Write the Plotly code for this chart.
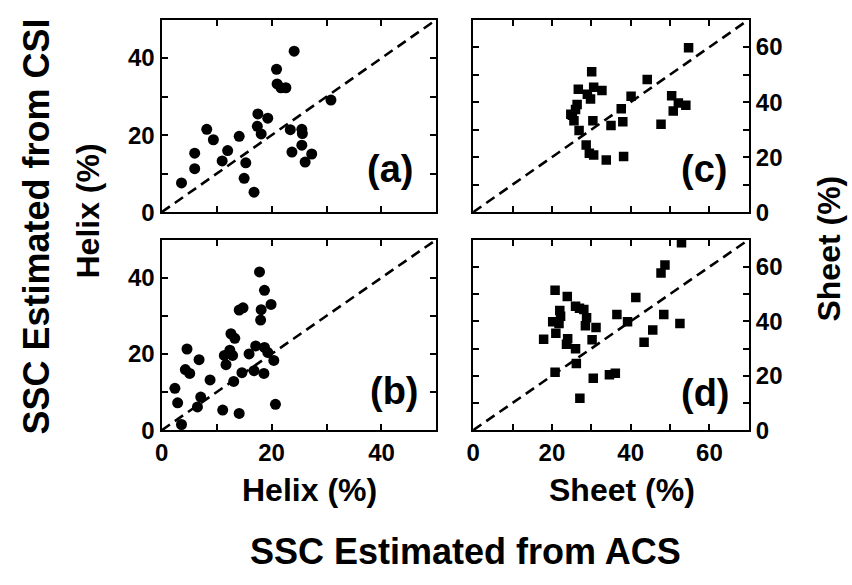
import plotly.graph_objects as go

# ---- data ----
helix_acs_a = [3.6, 6.0, 6.0, 8.2, 9.4, 11.0, 12.0, 14.1, 15.3, 15.0, 16.8, 17.4, 17.5, 18.1,
               19.3, 20.9, 21.0, 21.7, 22.6, 24.1, 23.4, 23.7, 25.5, 25.6, 25.5, 27.3, 26.1, 30.8]
helix_csi_a = [7.6, 11.3, 15.3, 21.5, 18.8, 13.3, 16.0, 19.7, 12.8, 8.8, 5.2, 22.3, 25.5, 20.3,
               24.4, 37.1, 33.3, 32.3, 32.3, 41.8, 21.4, 15.6, 21.5, 20.4, 17.4, 15.1, 13.0, 29.1]

helix_acs_b = [2.4, 2.9, 3.6, 4.6, 4.3, 5.1, 6.8, 7.1, 6.5, 8.8, 11.1, 11.4, 11.7, 12.4, 12.9,
               12.6, 13.3, 13.1, 14.1, 14.1, 14.8, 14.6, 15.9, 16.8, 17.1, 17.8, 18.7, 18.1,
               18.0, 19.9, 18.7, 18.6, 19.3, 20.4, 20.7]
helix_csi_b = [11.0, 7.2, 1.5, 21.3, 15.9, 14.9, 18.5, 8.7, 6.1, 13.2, 5.3, 19.6, 17.2, 21.0, 19.6,
               25.3, 24.1, 12.8, 4.4, 31.5, 32.1, 15.1, 20.0, 15.6, 22.1, 41.5, 36.7, 31.6,
               28.9, 33.0, 21.7, 14.9, 20.4, 18.3, 6.8]

sheet_acs_c = [30.1, 26.7, 29.0, 30.6, 32.7, 29.8, 26.4, 26.0, 25.2, 25.6, 26.9, 30.4, 28.7, 29.5,
               30.6, 33.8, 35.0, 37.6, 38.0, 38.2, 40.1, 44.2, 47.7, 50.4, 50.8, 52.1, 54.0, 54.7, 24.8]
sheet_csi_c = [51.0, 44.7, 42.9, 45.4, 44.2, 41.1, 39.1, 37.3, 35.2, 33.2, 29.7, 33.2, 24.4, 21.4,
               20.8, 19.0, 31.5, 37.6, 32.9, 20.2, 42.1, 48.2, 32.0, 42.3, 36.8, 39.7, 38.9, 59.8, 35.6]

sheet_acs_d = [20.8, 23.9, 22.0, 22.2, 20.2, 21.8, 21.0, 17.9, 24.0, 23.7, 26.0, 26.0, 27.0, 28.1,
               28.8, 28.5, 31.2, 30.2, 26.2, 20.8, 27.1, 30.5, 34.6, 36.1, 36.5, 39.2, 41.3, 43.4,
               45.6, 48.4, 47.7, 48.7, 52.5, 52.9]
sheet_csi_d = [51.4, 49.1, 44.0, 41.8, 39.8, 39.2, 35.6, 33.4, 33.6, 31.6, 29.9, 45.5, 44.8, 44.3,
               41.3, 38.4, 37.7, 33.2, 24.5, 21.3, 11.7, 19.1, 20.4, 20.9, 42.5, 39.8, 48.7, 32.3,
               36.8, 42.5, 57.7, 60.7, 39.2, 68.8]

helix_range = [0, 50]
sheet_range = [0, 70]
helix_ticks = [0, 10, 20, 30, 40, 50]
helix_ticktext = ["0", "", "20", "", "40", ""]
sheet_ticks = [0, 10, 20, 30, 40, 50, 60, 70]
sheet_ticktext = ["0", "", "20", "", "40", "", "60", ""]
panel_labels = ["(a)", "(b)", "(c)", "(d)"]

W, H = 852, 585
FONT = "Liberation Sans, Arial, Helvetica, sans-serif"

fig = go.Figure()

def add_panel(x, y, symbol, size, rng, xa, ya):
    fig.add_trace(go.Scatter(x=x, y=y, mode="markers", xaxis=xa, yaxis=ya,
                             marker=dict(symbol=symbol, size=size, color="black",
                                         line=dict(width=0)),
                             showlegend=False))
    fig.add_trace(go.Scatter(x=rng, y=rng, mode="lines", xaxis=xa, yaxis=ya,
                             line=dict(color="black", width=2.6, dash="10px,6px"),
                             showlegend=False))

add_panel(helix_acs_a, helix_csi_a, "circle", 11, helix_range, "x", "y")
add_panel(helix_acs_b, helix_csi_b, "circle", 11, helix_range, "x2", "y2")
add_panel(sheet_acs_c, sheet_csi_c, "square", 9.5, sheet_range, "x3", "y3")
add_panel(sheet_acs_d, sheet_csi_d, "square", 9.5, sheet_range, "x4", "y4")

def px_x(a, b):
    return [a / W, b / W]

def px_y(top, bottom):
    return [1 - bottom / H, 1 - top / H]

axis_common = dict(showline=True, linecolor="black", linewidth=2.4, ticks="inside",
                   ticklen=6, tickwidth=2, tickcolor="black", mirror="ticks",
                   showgrid=False, zeroline=False, fixedrange=True,
                   tickfont=dict(family=FONT, size=24, color="black", weight="bold"))

left_dom = px_x(156, 433)
right_dom = px_x(470, 748)
top_dom = px_y(20, 217)
bot_dom = px_y(245, 440)

fig.update_layout(
    xaxis=dict(domain=left_dom, anchor="y", range=helix_range, tickvals=helix_ticks,
               showticklabels=False, **axis_common),
    yaxis=dict(domain=top_dom, anchor="x", range=helix_range, tickvals=helix_ticks,
               ticktext=helix_ticktext, **axis_common),
    xaxis2=dict(domain=left_dom, anchor="y2", range=helix_range, tickvals=helix_ticks,
                ticktext=helix_ticktext, **axis_common),
    yaxis2=dict(domain=bot_dom, anchor="x2", range=helix_range, tickvals=helix_ticks,
                ticktext=helix_ticktext, **axis_common),
    xaxis3=dict(domain=right_dom, anchor="y3", range=sheet_range, tickvals=sheet_ticks,
                showticklabels=False, **axis_common),
    yaxis3=dict(domain=top_dom, anchor="x3", range=sheet_range, tickvals=sheet_ticks,
                ticktext=sheet_ticktext, side="right", **axis_common),
    xaxis4=dict(domain=right_dom, anchor="y4", range=sheet_range, tickvals=sheet_ticks,
                ticktext=sheet_ticktext, **axis_common),
    yaxis4=dict(domain=bot_dom, anchor="x4", range=sheet_range, tickvals=sheet_ticks,
                ticktext=sheet_ticktext, side="right", **axis_common),
    width=W, height=H, margin=dict(l=0, r=0, t=0, b=0),
    paper_bgcolor="white", plot_bgcolor="white",
)

def ann(text, xpx, ypx, size, angle=0):
    fig.add_annotation(text=text, x=xpx / W, y=1 - ypx / H, xref="paper", yref="paper",
                       xanchor="center", yanchor="middle", showarrow=False, textangle=angle,
                       font=dict(family=FONT, size=size, color="black", weight="bold"))

# panel labels
ann(panel_labels[0], 386, 173, 38)
ann(panel_labels[1], 391, 400, 38)
ann(panel_labels[2], 703, 173, 38)
ann(panel_labels[3], 704, 402, 38)

# axis titles
ann("SSC Estimated from CSI", 30, 232, 36, -90)
ann("Helix (%)", 82, 216, 32, -90)
ann("Sheet (%)", 829, 254, 32, -90)
ann("Helix (%)", 305, 501, 32)
ann("Sheet (%)", 620, 501, 32)
ann("SSC Estimated from ACS", 462, 564, 36)

fig.write_html("out.html")
